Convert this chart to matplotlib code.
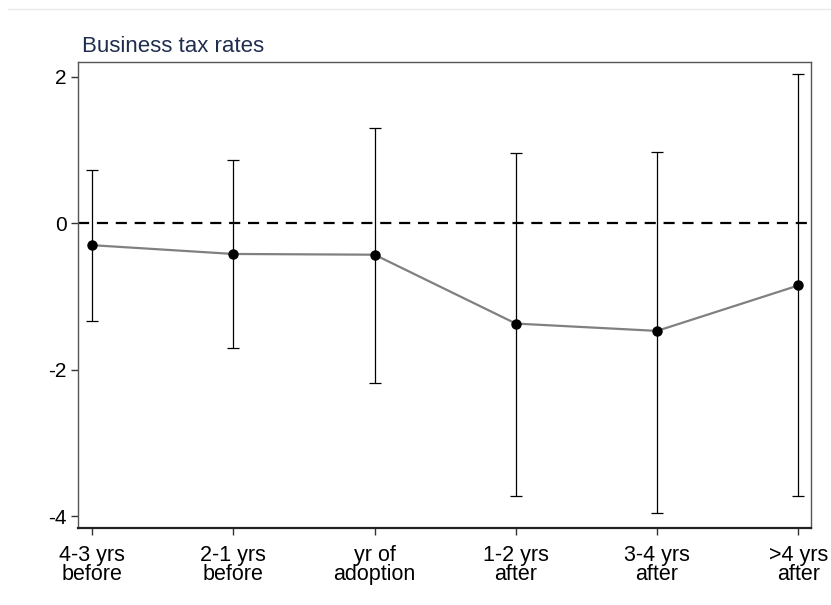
import matplotlib
matplotlib.use("Agg")
import matplotlib.pyplot as plt
from matplotlib.lines import Line2D

# event-study estimates
periods = ["4-3 yrs\nbefore", "2-1 yrs\nbefore", "yr of\nadoption",
           "1-2 yrs\nafter", "3-4 yrs\nafter", ">4 yrs\nafter"]
coef = [-0.30, -0.42, -0.43, -1.37, -1.47, -0.85]
ci_low = [-1.34, -1.71, -2.18, -3.73, -3.96, -3.73]
ci_high = [0.73, 0.86, 1.30, 0.96, 0.97, 2.04]
yticks = [2, 0, -2, -4]

plt.rcParams["font.family"] = ["Liberation Sans", "DejaVu Sans"]

fig = plt.figure(figsize=(8.31, 6.05), dpi=100)
ax = fig.add_axes([78 / 831, 1 - 528 / 605, (811 - 78) / 831, (528 - 62) / 605])

x = list(range(len(coef)))
yerr = [[c - l for c, l in zip(coef, ci_low)], [h - c for c, h in zip(coef, ci_high)]]

ax.axhline(0, color="black", lw=1.6, ls=(0, (5, 3.5)), zorder=1)
ax.errorbar(x, coef, yerr=yerr, fmt="none", ecolor="black", elinewidth=0.9,
            capsize=4, capthick=0.9, zorder=2)
ax.plot(x, coef, color="#808080", lw=1.6, zorder=3)
ax.plot(x, coef, "o", color="black", ms=6.5, zorder=4)

ax.set_xlim(-0.1, 5.09)
ax.set_ylim(-4.16, 2.2)
ax.set_yticks(yticks)
ax.set_yticklabels([str(v) for v in yticks], fontsize=15)
ax.set_xticks(x)
ax.set_xticklabels(periods, fontsize=15.5, linespacing=0.92)
ax.tick_params(axis="both", direction="out", length=5, width=1, color="#333333")
ax.tick_params(axis="x", pad=7)
ax.tick_params(axis="y", pad=3)

for side in ["top", "right", "left"]:
    ax.spines[side].set_color("#555555")
    ax.spines[side].set_linewidth(1)
ax.spines["bottom"].set_color("#222222")
ax.spines["bottom"].set_linewidth(1.6)

ax.set_title("Business tax rates", loc="left", fontsize=16, color="#1f2d4f", pad=7, x=0.005)

# faint page rule at the top
fig.add_artist(Line2D([8 / 831, 1], [1 - 9 / 605, 1 - 9 / 605], color="#e6eaec", lw=1))

fig.savefig("out.png", dpi=100)
